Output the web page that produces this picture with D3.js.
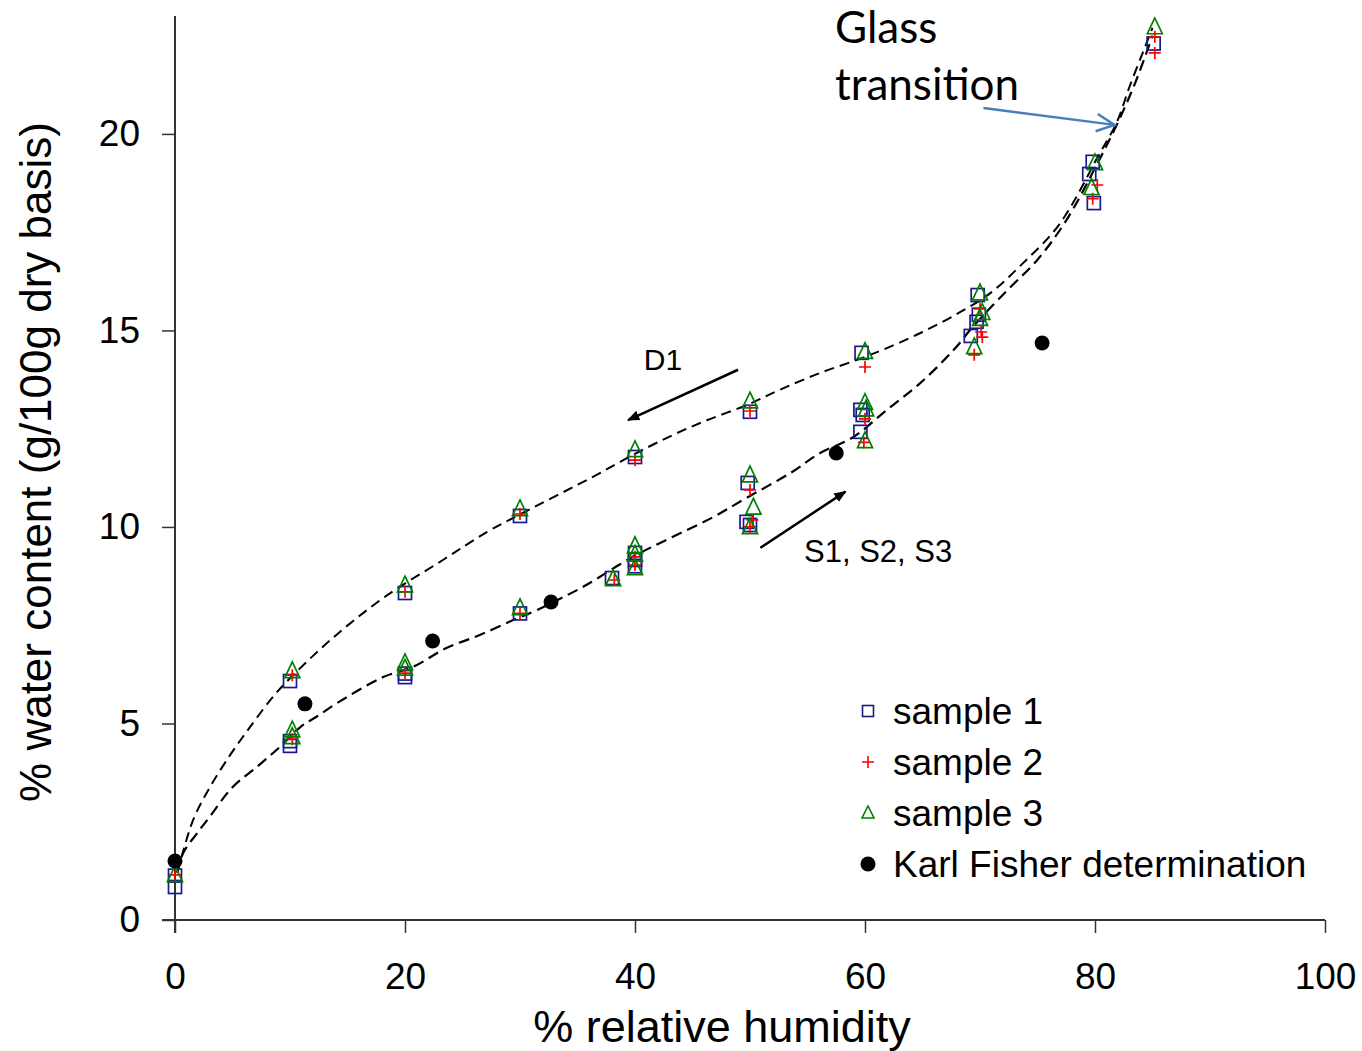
<!DOCTYPE html>
<html>
<head>
<meta charset="utf-8">
<script src="https://cdn.jsdelivr.net/npm/d3@7"></script>
<style>
	body { margin: 0; background: #fff; }
	text { font-family: "Liberation Sans", Arial, sans-serif; fill: #000; }
</style>
</head>
<body>
<svg id="chart"></svg>
<script>
// measured points, [rh %, water g/100g]
var sample1 = [[0,0.84],[0,1.13],[10,6.08],[10,4.43],[10,4.55],[20,8.32],[20,6.18],[20,6.27],[30,10.28],[30,7.8],
	[38,8.7],[40,11.78],[40,9.34],[40,9.16],[40,9.0],[50,12.93],[49.8,11.12],[49.7,10.13],[50,10.05],
	[59.7,14.43],[59.6,12.98],[59.8,12.85],[59.6,12.42],[69.8,15.9],[69.9,15.4],[69.7,15.22],[69.2,14.86],
	[79.8,19.29],[79.5,18.98],[79.9,18.24],[85.1,22.3]];
var sample2 = [[0,1.15],[10.2,6.23],[10.2,4.6],[20,8.35],[20,6.28],[30,10.33],[30,7.8],[38.2,8.65],[40,11.7],[40,9.24],
	[40,9.03],[50,12.95],[50,10.94],[50.2,10.18],[50,10.0],[60,14.07],[60,12.75],[59.9,12.15],[70,15.55],
	[70.1,14.96],[70.2,14.83],[69.5,14.38],[80.2,18.7],[79.8,18.35],[85.2,22.06],[85.2,22.47]];
var sample3 = [[0,1.15],[10.2,6.34],[10.2,4.83],[10.2,4.66],[20,8.52],[20,6.54],[20,6.4],[30,10.46],[30,7.94],[38.1,8.68],
	[40,11.96],[40,9.52],[40,9.3],[40,8.96],[50,13.2],[50,11.32],[50.3,10.5],[50,10.0],[60,14.46],[60,13.16],
	[60.1,13.0],[60,12.19],[70,15.95],[70.2,15.45],[70,15.3],[69.5,14.58],[80,19.26],[79.7,18.63],[85.2,22.72]];
var karlFisher = [[0,1.5],[11.3,5.5],[22.4,7.1],[32.7,8.09],[57.5,11.88],[75.4,14.68]];

// fitted curves
var desorptionCurve = [[0.2,1.2],[1.57,2.54],[3.04,3.38],[4.8,4.2],[6.5,4.9],[8.3,5.6],[9.6,6.03],[13.5,7.12],
	[18.1,8.19],[23.3,9.16],[27,9.85],[30,10.32],[36.3,11.27],[39.8,11.83],[43.3,12.34],[46.3,12.72],[49.7,13.1],
	[52.6,13.49],[56.1,13.92],[59.3,14.25],[61.9,14.55],[65,14.96],[68.3,15.47],[70.9,15.95],[73.7,16.7],
	[76.9,17.7],[80.4,19.5],[81.9,20.3],[83,21.2],[84.2,22.1],[85,22.7]];
var sorptionCurve = [[0.2,1.2],[0.7,1.7],[1.9,2.2],[3,2.62],[5,3.38],[7.1,3.89],[9.1,4.4],[10.9,4.91],[12.3,5.17],
	[14.1,5.52],[18.1,6.18],[20.7,6.44],[23.6,6.92],[26.5,7.25],[29.4,7.63],[31.5,7.89],[35,8.4],[36.1,8.58],
	[39.8,9.24],[43.3,9.75],[46.8,10.25],[49.7,10.74],[53.5,11.37],[56.1,11.88],[59,12.29],[61.9,12.98],
	[64.8,13.66],[67.7,14.5],[69.4,15.1],[72.3,16.0],[75,16.8],[77.5,17.8],[80.3,19.3],[82,20.3],[83.5,21.3],[85,22.5]];

var xTicks = [0, 20, 40, 60, 80, 100];
var yTicks = [0, 5, 10, 15, 20];
var legendLabels = ["sample 1", "sample 2", "sample 3", "Karl Fisher determination"];

(function(){
	var W = 1362, H = 1051;
	var svg = d3.select("#chart").attr("width", W).attr("height", H);

	var x = d3.scaleLinear().domain([0, 100]).range([175, 1325]);
	var y = d3.scaleLinear().domain([0, 23]).range([920, 16]);
	var axisColor = "#333";

	// axes
	var gx = svg.append("g")
		.attr("transform", "translate(0," + y(0) + ")")
		.call(d3.axisBottom(x).tickValues(xTicks).tickSize(13).tickPadding(30).tickSizeOuter(0));
	var gy = svg.append("g")
		.attr("transform", "translate(" + x(0) + ",0)")
		.call(d3.axisLeft(y).tickValues(yTicks).tickSize(13).tickPadding(22).tickSizeOuter(0));
	[gx, gy].forEach(function(g){
		g.selectAll("path.domain").attr("stroke", axisColor).attr("stroke-width", 2);
		g.selectAll(".tick line").attr("stroke", axisColor).attr("stroke-width", 1.5);
		g.selectAll(".tick text").style("font-size", "37px").style("font-family", "Liberation Sans, Arial, sans-serif").attr("fill", "#000");
	});
	// axis lines reach past each other like the original
	gx.select("path.domain").attr("d", "M" + (x(0) - 13) + ",0H" + x(100));
	gy.select("path.domain").attr("d", "M0," + (y(0) + 13) + "V" + y(23));

	svg.append("text")
		.attr("x", 722).attr("y", 1042)
		.attr("text-anchor", "middle")
		.style("font-size", "45px")
		.text("% relative humidity");
	svg.append("text")
		.attr("transform", "translate(51,462) rotate(-90)")
		.attr("text-anchor", "middle")
		.style("font-size", "44px")
		.text("% water content (g/100g dry basis)");

	// curves
	var line = d3.line()
		.x(function(d){ return x(d[0]); })
		.y(function(d){ return y(d[1]); })
		.curve(d3.curveCatmullRom);
	svg.append("path").datum(desorptionCurve)
		.attr("d", line).attr("fill", "none")
		.attr("stroke", "#000").attr("stroke-width", 2).attr("stroke-dasharray", "10,6");
	svg.append("path").datum(sorptionCurve)
		.attr("d", line).attr("fill", "none")
		.attr("stroke", "#000").attr("stroke-width", 2.2).attr("stroke-dasharray", "11,6");

	// markers
	var sqColor = "#1a1a8c", plusColor = "#ff0000", triColor = "#008000";
	function drawSquares(g, pts, s){
		g.selectAll("rect").data(pts).enter().append("rect")
			.attr("x", function(d){ return x(d[0]) - s / 2; })
			.attr("y", function(d){ return y(d[1]) - s / 2; })
			.attr("width", s).attr("height", s)
			.attr("fill", "none").attr("stroke", sqColor).attr("stroke-width", 1.7);
	}
	function drawPlus(g, pts, s){
		g.selectAll("path").data(pts).enter().append("path")
			.attr("d", function(d){
				var cx = x(d[0]), cy = y(d[1]);
				return "M" + (cx - s / 2) + "," + cy + "H" + (cx + s / 2) + "M" + cx + "," + (cy - s / 2) + "V" + (cy + s / 2);
			})
			.attr("stroke", plusColor).attr("stroke-width", 1.7).attr("fill", "none");
	}
	function drawTri(g, pts, s){
		g.selectAll("path").data(pts).enter().append("path")
			.attr("d", function(d){
				var cx = x(d[0]), cy = y(d[1]);
				return "M" + cx + "," + (cy - s * 0.6) + "L" + (cx + s / 2) + "," + (cy + s * 0.45) + "L" + (cx - s / 2) + "," + (cy + s * 0.45) + "Z";
			})
			.attr("fill", "none").attr("stroke", triColor).attr("stroke-width", 1.7);
	}
	function drawDots(g, pts, r){
		g.selectAll("circle").data(pts).enter().append("circle")
			.attr("cx", function(d){ return x(d[0]); })
			.attr("cy", function(d){ return y(d[1]); })
			.attr("r", r).attr("fill", "#000");
	}
	drawSquares(svg.append("g"), sample1, 13);
	drawPlus(svg.append("g"), sample2, 12);
	drawTri(svg.append("g"), sample3, 15);
	drawDots(svg.append("g"), karlFisher, 7.5);

	// annotations
	svg.append("defs").append("marker")
		.attr("id", "tri").attr("viewBox", "0 0 10 10")
		.attr("refX", 9).attr("refY", 5)
		.attr("markerWidth", 5).attr("markerHeight", 5)
		.attr("orient", "auto")
		.append("path").attr("d", "M0,1L10,5L0,9Z").attr("fill", "#000");

	svg.append("line")
		.attr("x1", x(48.96)).attr("y1", y(14.0))
		.attr("x2", x(39.4)).attr("y2", y(12.72))
		.attr("stroke", "#000").attr("stroke-width", 2.5).attr("marker-end", "url(#tri)");
	svg.append("text").attr("x", 663).attr("y", 370)
		.attr("text-anchor", "middle").style("font-size", "30px").text("D1");

	svg.append("line")
		.attr("x1", x(50.9)).attr("y1", y(9.47))
		.attr("x2", x(58.3)).attr("y2", y(10.9))
		.attr("stroke", "#000").attr("stroke-width", 2.5).attr("marker-end", "url(#tri)");
	svg.append("text").attr("x", 804).attr("y", 562)
		.style("font-size", "31px").text("S1, S2, S3");

	// glass transition callout
	var gt = svg.append("g");
	gt.append("text").attr("x", 835).attr("y", 43)
		.style("font-family", "Lato, 'Open Sans', sans-serif").style("font-size", "44px").text("Glass");
	gt.append("text").attr("x", 835).attr("y", 100)
		.style("font-family", "Lato, 'Open Sans', sans-serif").style("font-size", "44px").text("transition");
	var ax1 = x(70.3), ay1 = y(20.66), ax2 = x(81.7), ay2 = y(20.23);
	gt.append("line").attr("x1", ax1).attr("y1", ay1).attr("x2", ax2).attr("y2", ay2)
		.attr("stroke", "#4a7ebb").attr("stroke-width", 2.5);
	var ang = Math.atan2(ay2 - ay1, ax2 - ax1), hl = 20, ha = 0.45;
	gt.append("path")
		.attr("d", "M" + (ax2 - hl * Math.cos(ang - ha)) + "," + (ay2 - hl * Math.sin(ang - ha)) +
			"L" + ax2 + "," + ay2 +
			"L" + (ax2 - hl * Math.cos(ang + ha)) + "," + (ay2 - hl * Math.sin(ang + ha)))
		.attr("fill", "none").attr("stroke", "#4a7ebb").attr("stroke-width", 2.5);

	// legend
	var leg = svg.append("g").attr("transform", "translate(868,711)");
	var rows = leg.selectAll("g").data(legendLabels).enter().append("g")
		.attr("transform", function(d, i){ return "translate(0," + (i * 51) + ")"; });
	rows.append("text").attr("x", 25).attr("y", 13)
		.style("font-size", "37px").text(function(d){ return d; });
	rows.each(function(d, i){
		var g = d3.select(this);
		if (i === 0) g.append("rect").attr("x", -5.5).attr("y", -5.5).attr("width", 11).attr("height", 11)
			.attr("fill", "none").attr("stroke", sqColor).attr("stroke-width", 1.6);
		if (i === 1) g.append("path").attr("d", "M-6,0H6M0,-6V6").attr("stroke", plusColor).attr("stroke-width", 1.6);
		if (i === 2) g.append("path").attr("d", "M0,-7L6,5H-6Z").attr("fill", "none").attr("stroke", triColor).attr("stroke-width", 1.6);
		if (i === 3) g.append("circle").attr("r", 7.5).attr("fill", "#000");
	});
})();
</script>
</body>
</html>
